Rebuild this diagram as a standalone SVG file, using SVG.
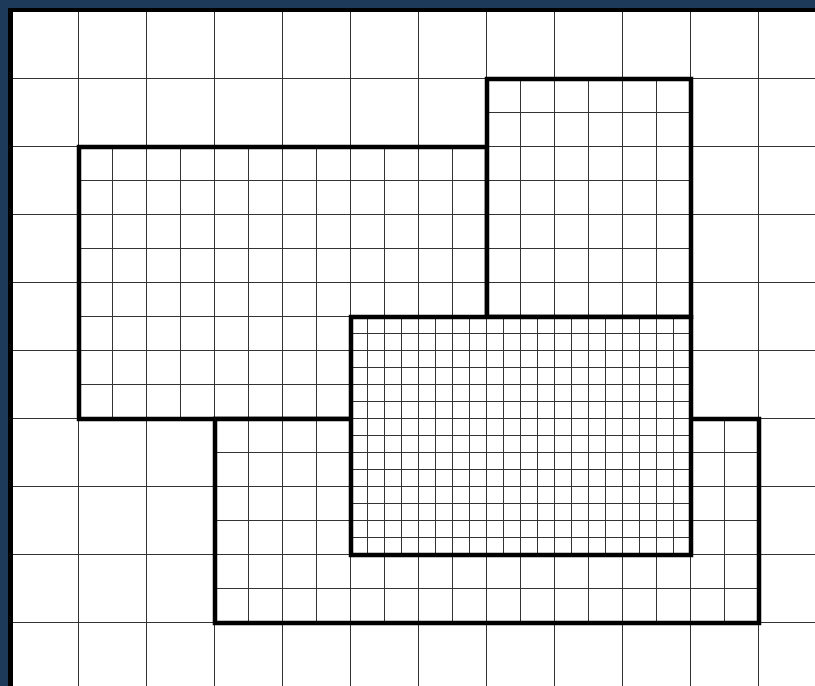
<svg xmlns="http://www.w3.org/2000/svg" width="815" height="686" viewBox="0 0 815 686">
<style>
.grid{stroke:#333;stroke-width:1;fill:none}
.box{fill:#fff}
.edge{fill:none;stroke:#000;stroke-width:4.5}
</style>
<rect x="0" y="0" width="815" height="686" fill="#fff"/>
<g id="main-grid" class="grid">
<path d="M78.5 12V686M146.5 12V686M214.5 12V686M282.5 12V686M350.5 12V686M418.5 12V686M486.5 12V686M554.5 12V686M622.5 12V686M690.5 12V686M758.5 12V686"/>
<path d="M13 78.5H815M13 146.5H815M13 214.5H815M13 282.5H815M13 350.5H815M13 418.5H815M13 486.5H815M13 554.5H815M13 622.5H815"/>
</g>
<g id="frame">
<rect x="0" y="0" width="815" height="8" fill="#1e3a5a"/>
<rect x="0" y="0" width="8" height="686" fill="#1e3a5a"/>
<rect x="8" y="8" width="807" height="4" fill="#000"/>
<rect x="8" y="8" width="5" height="678" fill="#000"/>
</g>
<g id="left-rect">
<rect class="box" x="79" y="147" width="408" height="272"/>
<path class="grid" d="M112.5 146.5V418.5M146.5 146.5V418.5M180.5 146.5V418.5M214.5 146.5V418.5M248.5 146.5V418.5M282.5 146.5V418.5M316.5 146.5V418.5M350.5 146.5V418.5M384.5 146.5V418.5M418.5 146.5V418.5M452.5 146.5V418.5M78.5 180.5H486.5M78.5 214.5H486.5M78.5 248.5H486.5M78.5 282.5H486.5M78.5 316.5H486.5M78.5 350.5H486.5M78.5 384.5H486.5"/>
<rect class="edge" x="79" y="147" width="408" height="272"/>
</g>
<g id="top-right-rect">
<rect class="box" x="487" y="79" width="204" height="238"/>
<path class="grid" d="M520.5 78.5V316.5M554.5 78.5V316.5M588.5 78.5V316.5M622.5 78.5V316.5M656.5 78.5V316.5M486.5 112.5H690.5M486.5 146.5H690.5M486.5 180.5H690.5M486.5 214.5H690.5M486.5 248.5H690.5M486.5 282.5H690.5"/>
<rect class="edge" x="487" y="79" width="204" height="238"/>
</g>
<g id="bottom-rect">
<rect class="box" x="215" y="419" width="544" height="204"/>
<path class="grid" d="M248.5 418.5V622.5M282.5 418.5V622.5M316.5 418.5V622.5M350.5 418.5V622.5M384.5 418.5V622.5M418.5 418.5V622.5M452.5 418.5V622.5M486.5 418.5V622.5M520.5 418.5V622.5M554.5 418.5V622.5M588.5 418.5V622.5M622.5 418.5V622.5M656.5 418.5V622.5M690.5 418.5V622.5M724.5 418.5V622.5M214.5 452.5H758.5M214.5 486.5H758.5M214.5 520.5H758.5M214.5 554.5H758.5M214.5 588.5H758.5"/>
<rect class="edge" x="215" y="419" width="544" height="204"/>
</g>
<g id="middle-rect">
<rect class="box" x="351" y="317" width="340" height="238"/>
<path class="grid" d="M367.5 316.5V554.5M384.5 316.5V554.5M401.5 316.5V554.5M418.5 316.5V554.5M435.5 316.5V554.5M452.5 316.5V554.5M469.5 316.5V554.5M486.5 316.5V554.5M503.5 316.5V554.5M520.5 316.5V554.5M537.5 316.5V554.5M554.5 316.5V554.5M571.5 316.5V554.5M588.5 316.5V554.5M605.5 316.5V554.5M622.5 316.5V554.5M639.5 316.5V554.5M656.5 316.5V554.5M673.5 316.5V554.5M350.5 333.5H690.5M350.5 350.5H690.5M350.5 367.5H690.5M350.5 384.5H690.5M350.5 401.5H690.5M350.5 418.5H690.5M350.5 435.5H690.5M350.5 452.5H690.5M350.5 469.5H690.5M350.5 486.5H690.5M350.5 503.5H690.5M350.5 520.5H690.5M350.5 537.5H690.5"/>
<rect class="edge" x="351" y="317" width="340" height="238"/>
</g>
</svg>
